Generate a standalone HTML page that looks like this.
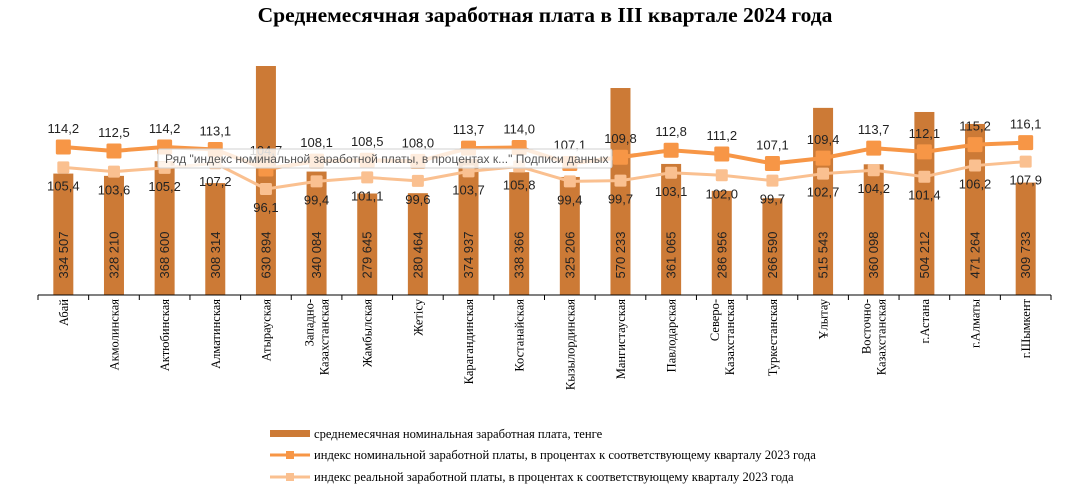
<!DOCTYPE html>
<html><head><meta charset="utf-8"><style>
body{margin:0;background:#fff;}
svg{display:block;}
</style></head><body>
<svg id="chart" width="1076" height="501" xmlns="http://www.w3.org/2000/svg">
<text x="545" y="22" text-anchor="middle" font-family="Liberation Serif, serif" font-weight="bold" font-size="21.5" fill="#000">Среднемесячная заработная плата в III квартале 2024 года</text>
<g id="bars"></g><g id="lines"></g><g id="labels"></g><g id="axis"></g>
<g>
<rect x="158" y="149" width="454" height="19" fill="#ffffff" fill-opacity="0.82" stroke="#d0d0d0" rx="2"/>
<text x="165" y="163" font-family="Liberation Sans, sans-serif" font-size="12" fill="#555">Ряд "индекс номинальной заработной платы, в процентах к..." Подписи данных</text>
</g>
<g font-family="Liberation Serif, serif" font-size="12.6" fill="#000">
<rect x="270" y="430" width="40" height="7" fill="#CC7A36"/>
<text x="314" y="438">среднемесячная номинальная заработная плата, тенге</text>
<line x1="270" y1="455" x2="310" y2="455" stroke="#F79646" stroke-width="3"/>
<rect x="286" y="451" width="8" height="8" fill="#F79646"/>
<text x="314" y="459">индекс номинальной заработной платы, в процентах к соответствующему кварталу 2023 года</text>
<line x1="270" y1="477" x2="310" y2="477" stroke="#FAC090" stroke-width="3"/>
<rect x="286" y="473" width="8" height="8" fill="#FAC090"/>
<text x="314" y="481">индекс реальной заработной платы, в процентах к соответствующему кварталу 2023 года</text>
</g>
</svg>
<script>
const categories = [["Абай"],["Акмолинская"],["Актюбинская"],["Алматинская"],["Атырауская"],["Западно-","Казахстанская"],["Жамбылская"],["Жетісу"],["Карагандинская"],["Костанайская"],["Кызылординская"],["Мангистауская"],["Павлодарская"],["Северо-","Казахстанская"],["Туркестанская"],["Ұлытау"],["Восточно-","Казахстанская"],["г.Астана"],["г.Алматы"],["г.Шымкент"]];
const wages = [334507,328210,368600,308314,630894,340084,279645,280464,374937,338366,325206,570233,361065,286956,266590,515543,360098,504212,471264,309733];
const nominal = [114.2,112.5,114.2,113.1,104.7,108.1,108.5,108.0,113.7,114.0,107.1,109.8,112.8,111.2,107.1,109.4,113.7,112.1,115.2,116.1];
const real = [105.4,103.6,105.2,107.2,96.1,99.4,101.1,99.6,103.7,105.8,99.4,99.7,103.1,102.0,99.7,102.7,104.2,101.4,106.2,107.9];

const NS="http://www.w3.org/2000/svg";
const X0=38,X1=1051,Y0=295;
const step=(X1-X0)/categories.length;
const xC=i=>X0+step*(i+0.5);
const yBar=v=>Y0-v*(229/630894);
const yIdx=v=>147+(114.2-v)*2.32;
function mk(tag,attrs,parent){const e=document.createElementNS(NS,tag);for(const k in attrs)e.setAttribute(k,attrs[k]);parent.appendChild(e);return e;}
const fmt=v=>v.toFixed(1).replace('.',',');
const fmtW=v=>String(v).replace(/\B(?=(\d{3})+(?!\d))/g,' ');
const gB=document.getElementById('bars'),gL=document.getElementById('lines'),gT=document.getElementById('labels'),gA=document.getElementById('axis');

wages.forEach((v,i)=>{
  const r=mk('rect',{x:xC(i)-10,y:yBar(v),width:20,height:Y0-yBar(v),fill:'#CC7A36'},gB);
  
  
  const t=mk('text',{x:0,y:0,transform:`translate(${xC(i)+4.5},255) rotate(-90)`,'text-anchor':'middle','font-family':'Liberation Sans, sans-serif','font-size':'13',fill:'#222'},gT);
  t.textContent=fmtW(v);
  
  
});

function series(vals,color,w,ms,name,dy){
  const pts=vals.map((v,i)=>xC(i)+','+yIdx(v)).join(' ');
  const pl=mk('polyline',{points:pts,fill:'none',stroke:color,'stroke-width':w,'stroke-linejoin':'round'},gL);
  
  
  vals.forEach((v,i)=>{
    const m=mk('rect',{x:xC(i)-ms/2,y:yIdx(v)-ms/2,width:ms,height:ms,fill:color,rx:1.5},gL);
    
    
    const t=mk('text',{x:xC(i),y:yIdx(v)+dy,'text-anchor':'middle','font-family':'Liberation Sans, sans-serif','font-size':'13',fill:'#222'},gT);
    t.textContent=fmt(v);
    
    
  });
}
series(real,'#FAC090',3,12,'real-index',23);
series(nominal,'#F79646',4,15,'nominal-index',-14);

mk('line',{x1:X0,y1:Y0,x2:X1,y2:Y0,stroke:'#000','stroke-width':1},gA);
for(let i=0;i<=categories.length;i++){
  mk('line',{x1:X0+step*i,y1:Y0,x2:X0+step*i,y2:Y0+5,stroke:'#000'},gA);
}
categories.forEach((lines,i)=>{
  const n=lines.length;
  lines.forEach((s,j)=>{
    const x=xC(i)+4.5+(j-(n-1)/2)*15;
    const t=mk('text',{x:0,y:0,transform:`translate(${x},299) rotate(-90)`,'text-anchor':'end','font-family':'Liberation Serif, serif','font-size':'12.5',fill:'#000'},gA);
    t.textContent=s;
    
    
  });
});
</script>
</body></html>
